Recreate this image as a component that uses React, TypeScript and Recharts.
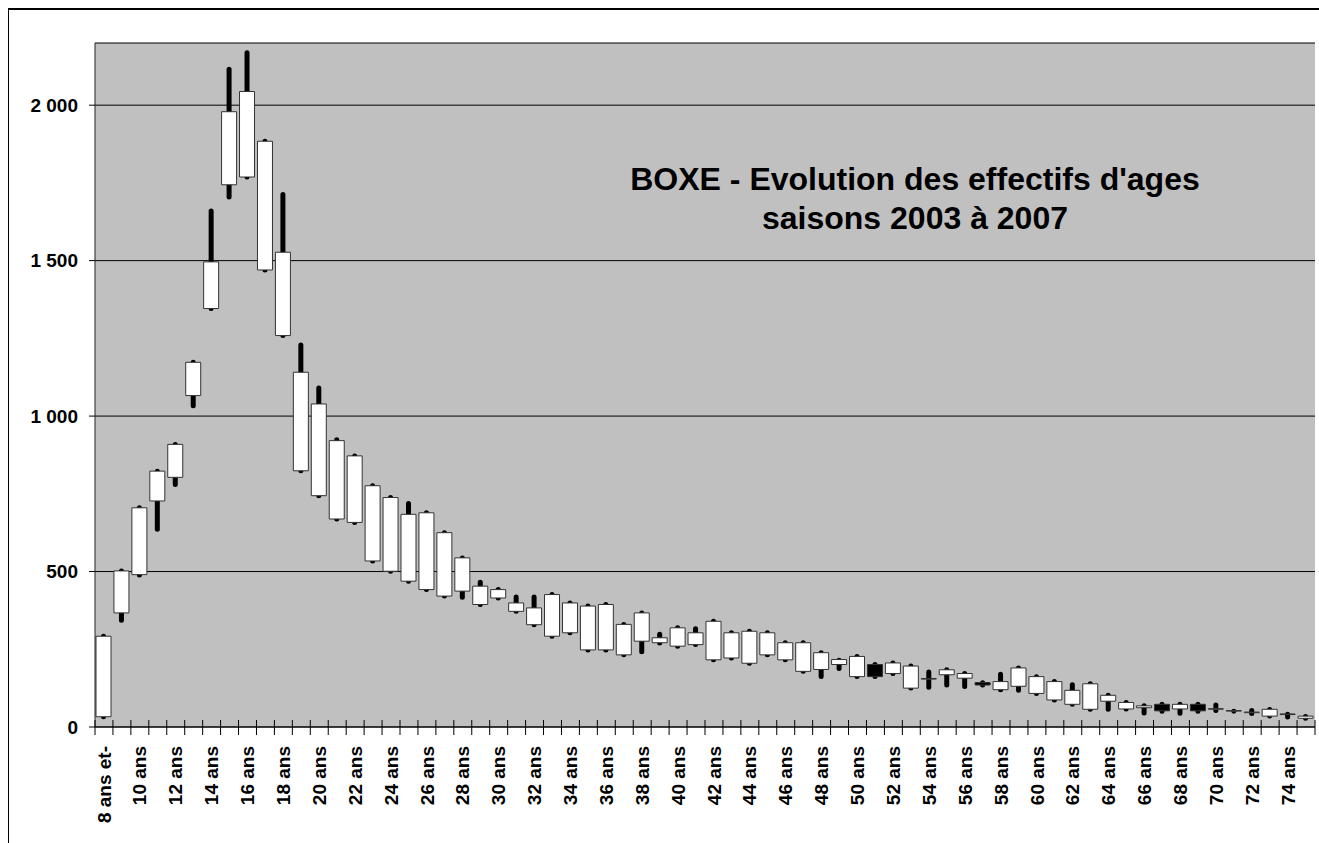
import { ComposedChart, Bar, Cell, XAxis, YAxis, CartesianGrid } from "recharts";

// effectifs par âge : ouverture (2003), clôture (2007), max et min sur la période
const ages = [
  "8 ans et-", "9 ans", "10 ans", "11 ans", "12 ans", "13 ans", "14 ans", "15 ans", "16 ans", "17 ans",
  "18 ans", "19 ans", "20 ans", "21 ans", "22 ans", "23 ans", "24 ans", "25 ans", "26 ans", "27 ans",
  "28 ans", "29 ans", "30 ans", "31 ans", "32 ans", "33 ans", "34 ans", "35 ans", "36 ans", "37 ans",
  "38 ans", "39 ans", "40 ans", "41 ans", "42 ans", "43 ans", "44 ans", "45 ans", "46 ans", "47 ans",
  "48 ans", "49 ans", "50 ans", "51 ans", "52 ans", "53 ans", "54 ans", "55 ans", "56 ans", "57 ans",
  "58 ans", "59 ans", "60 ans", "61 ans", "62 ans", "63 ans", "64 ans", "65 ans", "66 ans", "67 ans",
  "68 ans", "69 ans", "70 ans", "71 ans", "72 ans", "73 ans", "74 ans", "75 ans",
];

const opens = [
  33, 367, 490, 727, 803, 1066, 1346, 1744, 1769, 1470,
  1259, 824, 744, 669, 658, 534, 501, 469, 442, 421,
  437, 394, 415, 372, 329, 292, 303, 248, 248, 232,
  276, 271, 260, 265, 216, 222, 205, 232, 216, 179,
  185, 201, 162, 201, 172, 125, 154, 168, 157, 143,
  120, 131, 108, 87, 73, 57, 83, 58, 62, 73,
  58, 73, 57, 51, 46, 35, 42, 28,
];

const closes = [
  292, 502, 705, 823, 909, 1173, 1496, 1979, 2044, 1884,
  1527, 1141, 1039, 921, 872, 776, 738, 684, 689, 625,
  544, 453, 442, 399, 383, 426, 399, 389, 394, 330,
  367, 287, 319, 303, 340, 303, 308, 303, 271, 271,
  239, 217, 227, 162, 206, 196, 156, 184, 172, 135,
  146, 190, 162, 146, 118, 139, 102, 79, 68, 52,
  73, 52, 59, 53, 48, 57, 40, 35,
];

const highs = [
  300, 510, 713, 831, 917, 1181, 1668, 2124, 2177, 1892,
  1721, 1237, 1098, 932, 880, 784, 746, 727, 697, 633,
  552, 474, 450, 426, 426, 434, 407, 397, 402, 338,
  375, 306, 327, 324, 348, 311, 316, 311, 279, 279,
  247, 223, 235, 209, 214, 204, 185, 192, 180, 150,
  178, 198, 170, 154, 144, 147, 110, 87, 76, 81,
  81, 81, 79, 59, 61, 64, 49, 42,
];

const lows = [
  25, 335, 481, 628, 772, 1025, 1338, 1697, 1761, 1462,
  1251, 816, 736, 661, 650, 526, 493, 461, 434, 413,
  409, 386, 407, 364, 321, 284, 295, 240, 240, 224,
  234, 262, 252, 257, 208, 214, 197, 224, 208, 171,
  154, 180, 154, 154, 164, 117, 120, 127, 122, 127,
  112, 110, 100, 79, 65, 49, 49, 50, 37, 43,
  36, 43, 45, 43, 35, 27, 24, 20,
];

const yTicks = [0, 500, 1000, 1500, 2000];

const data = ages.map((age, i) => ({
  age,
  wick: [lows[i], highs[i]],
  body: [Math.min(opens[i], closes[i]), Math.max(opens[i], closes[i])],
  up: closes[i] >= opens[i],
}));

// pas de barres de défilement : la page fait exactement la taille de la fenêtre
if (typeof document !== "undefined") {
  document.documentElement.style.overflow = "hidden";
  document.body.style.overflow = "hidden";
  document.body.style.margin = "8px 0 0 8px";
}

const W = 1310;
const H = 833;
const margin = { top: 33, right: 4, left: 0, bottom: 0 };
const Y_W = 86;
const X_H = 116;
const band = (W - Y_W - margin.left - margin.right) / ages.length;
const font = "'Liberation Sans', Arial, sans-serif";

const fmt = (v: number) =>
  v >= 1000 ? `${Math.floor(v / 1000)} ${String(v % 1000).padStart(3, "0")}` : String(v);

function AgeTick(props: any) {
  const { x, y, payload, index } = props;
  const half = band / 2;
  const ty = y + 19;
  return (
    <g>
      <line x1={x - half} x2={x - half} y1={y - 7} y2={y + 8} stroke="#000" />
      {index === ages.length - 1 && (
        <line x1={x + half} x2={x + half} y1={y - 7} y2={y + 8} stroke="#000" />
      )}
      {index % 2 === 0 && (
        <text
          x={x}
          y={ty}
          dy="0.35em"
          transform={`rotate(-90 ${x} ${ty})`}
          textAnchor="end"
          fill="#000"
          fontSize={19}
          fontWeight="bold"
          fontFamily={font}
        >
          {payload.value}
        </text>
      )}
    </g>
  );
}

export default function App() {
  return (
    <div
      style={{
        position: "relative",
        width: 1311,
        height: 835,
        boxSizing: "border-box",
        borderTop: "2px solid #000",
        borderLeft: "1px solid #000",
        fontFamily: font,
        overflow: "hidden",
      }}
    >
      <ComposedChart width={W} height={H} data={data} margin={margin} style={{ fontFamily: font }}>
        <CartesianGrid vertical={false} stroke="#000" fill="#C0C0C0" fillOpacity={1} />
        <XAxis
          dataKey="age"
          interval={0}
          tickSize={0}
          tickMargin={0}
          height={X_H}
          axisLine={{ stroke: "#000" }}
          tickLine={false}
          tick={<AgeTick />}
        />
        <XAxis xAxisId="wick" dataKey="age" hide />
        <YAxis
          domain={[0, 2200]}
          ticks={yTicks}
          width={Y_W}
          tickFormatter={fmt}
          tickSize={6}
          tickMargin={11}
          axisLine={{ stroke: "#222" }}
          tickLine={{ stroke: "#000" }}
          tick={{ fill: "#000", fontSize: 19, fontWeight: "bold", fontFamily: font }}
          interval={0}
        />
        <Bar xAxisId="wick" dataKey="wick" barSize={5} fill="#000" radius={2.5} isAnimationActive={false} />
        <Bar dataKey="body" barSize={15} stroke="#333" strokeWidth={1} isAnimationActive={false}>
          {data.map((d, i) => (
            <Cell key={i} fill={d.up ? "#fff" : "#000"} />
          ))}
        </Bar>
      </ComposedChart>
      <div
        style={{
          position: "absolute",
          left: 606,
          top: 150,
          width: 600,
          textAlign: "center",
          fontSize: 32,
          lineHeight: "39px",
          fontWeight: "bold",
          color: "#000",
        }}
      >
        BOXE - Evolution des effectifs d'ages
        <br />
        saisons 2003 à 2007
      </div>
    </div>
  );
}
